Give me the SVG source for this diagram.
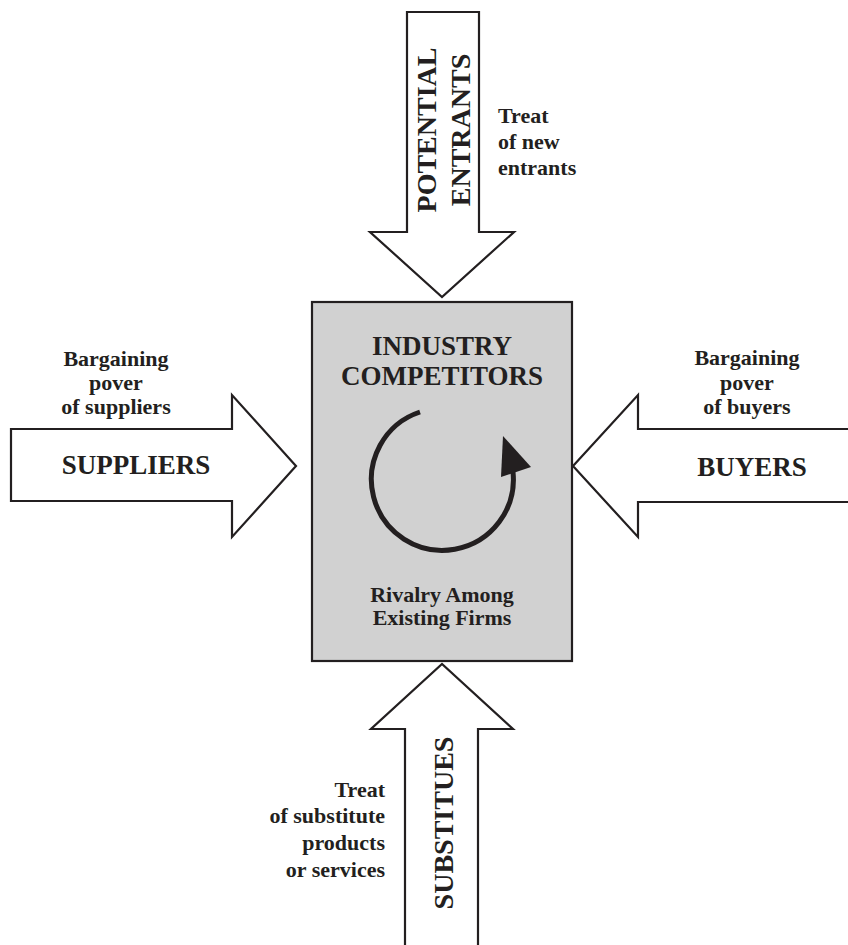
<svg xmlns="http://www.w3.org/2000/svg" width="848" height="945" viewBox="0 0 848 945">
<style>
.arrow{fill:#ffffff;stroke:#231f20;stroke-width:2.2;stroke-linejoin:miter}
.t{font-family:"Liberation Serif","Times New Roman",serif;font-weight:bold;fill:#231f20}
.big{font-size:28px}
.mid{font-size:27px}
.sm{font-size:22px}
</style>
<rect width="848" height="945" fill="#ffffff"/>
<g id="connectors">
<g id="entrants-arrow">
<polygon class="arrow" points="407,12 479,12 479,232 514,232 442,297 370,232 407,232"/>
<text class="t big" text-anchor="middle" transform="translate(436,130) rotate(-90)">POTENTIAL</text>
<text class="t big" text-anchor="middle" transform="translate(470,130) rotate(-90)">ENTRANTS</text>
</g>
<g id="suppliers-arrow">
<polygon class="arrow" points="11,429 232,429 232,395 296,466 232,537 232,501 11,501"/>
<text class="t mid" x="136" y="474" text-anchor="middle">SUPPLIERS</text>
</g>
<g id="buyers-arrow">
<polyline class="arrow" points="852,429 638,429 638,395 573,466 638,537 638,502 852,502"/>
<text class="t mid" x="752" y="476" text-anchor="middle">BUYERS</text>
</g>
<g id="substitutes-arrow">
<polyline class="arrow" points="405,950 405,729 371,729 442,664 513,729 478,729 478,950"/>
<text class="t big" text-anchor="middle" transform="translate(453,823) rotate(-90)">SUBSTITUES</text>
</g>
</g>
<g id="industry">
<rect x="312" y="302" width="260" height="359" fill="#d1d1d1" stroke="#231f20" stroke-width="2.2"/>
<text class="t mid" x="442" y="355" text-anchor="middle">INDUSTRY</text>
<text class="t mid" x="442" y="385" text-anchor="middle">COMPETITORS</text>
<path d="M 420 412 A 71 71 0 1 0 513 472" fill="none" stroke="#231f20" stroke-width="5"/>
<polygon points="503,436 531,467 501,477" fill="#231f20"/>
<text class="t sm" x="442" y="602" text-anchor="middle">Rivalry Among</text>
<text class="t sm" x="442" y="625" text-anchor="middle">Existing Firms</text>
</g>
<g id="label-entrants">
<text class="t sm" x="498" y="123">Treat</text>
<text class="t sm" x="498" y="149">of new</text>
<text class="t sm" x="498" y="175">entrants</text>
</g>
<g id="label-suppliers">
<text class="t sm" x="116" y="366" text-anchor="middle">Bargaining</text>
<text class="t sm" x="116" y="390" text-anchor="middle">pover</text>
<text class="t sm" x="116" y="414" text-anchor="middle">of suppliers</text>
</g>
<g id="label-buyers">
<text class="t sm" x="747" y="365" text-anchor="middle">Bargaining</text>
<text class="t sm" x="747" y="390" text-anchor="middle">pover</text>
<text class="t sm" x="747" y="414" text-anchor="middle">of buyers</text>
</g>
<g id="label-substitutes">
<text class="t sm" x="385" y="797" text-anchor="end">Treat</text>
<text class="t sm" x="385" y="823" text-anchor="end">of substitute</text>
<text class="t sm" x="385" y="850" text-anchor="end">products</text>
<text class="t sm" x="385" y="877" text-anchor="end">or services</text>
</g>
</svg>
